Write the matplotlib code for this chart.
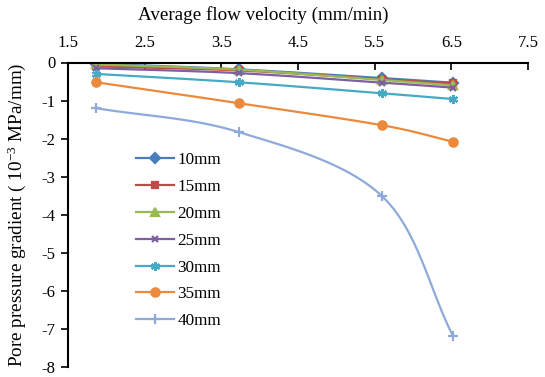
import numpy as np
import matplotlib.pyplot as plt

plt.rcParams["font.family"] = ["Liberation Serif", "DejaVu Serif"]
plt.rcParams["mathtext.fontset"] = "custom"
plt.rcParams["mathtext.rm"] = "Liberation Serif"
plt.rcParams["axes.unicode_minus"] = False
plt.rcParams["font.size"] = 12

velocity = [1.87, 3.73, 5.6, 6.52]
labels = ['10mm', '15mm', '20mm', '25mm', '30mm', '35mm', '40mm']
g10 = [-0.03, -0.18, -0.41, -0.53]
g15 = [-0.10, -0.21, -0.44, -0.55]
g20 = [-0.05, -0.19, -0.46, -0.60]
g25 = [-0.15, -0.28, -0.53, -0.66]
g30 = [-0.30, -0.52, -0.81, -0.96]
g35 = [-0.52, -1.07, -1.65, -2.08]
g40 = [-1.20, -1.83, -3.52, -7.18]
series = [g10, g15, g20, g25, g30, g35, g40]

colors = ['#4A7EBB', '#BE4B48', '#98B954', '#7D60A0', '#46AAC5', '#EB8A3C', '#8FAADA']
markers = ['D', 's', '^', 'x', (6, 2, 0), 'o', '+']
msizes = [5, 5, 6, 5, 6.5, 6, 7]


def smooth(x, y, n=40):
    # Catmull-Rom style smoothing, similar to Excel's smoothed line
    x = np.asarray(x, float)
    y = np.asarray(y, float)
    px = np.concatenate([[2 * x[0] - x[1]], x, [2 * x[-1] - x[-2]]])
    py = np.concatenate([[2 * y[0] - y[1]], y, [2 * y[-1] - y[-2]]])
    xs, ys = [], []
    t = np.linspace(0, 1, n)
    for i in range(1, len(px) - 2):
        p0, p1, p2, p3 = px[i - 1], px[i], px[i + 1], px[i + 2]
        q0, q1, q2, q3 = py[i - 1], py[i], py[i + 1], py[i + 2]
        c1x, c1y = p1 + (p2 - p0) / 6, q1 + (q2 - q0) / 6
        c2x, c2y = p2 - (p3 - p1) / 6, q2 - (q3 - q1) / 6
        bx = (1 - t) ** 3 * p1 + 3 * (1 - t) ** 2 * t * c1x + 3 * (1 - t) * t ** 2 * c2x + t ** 3 * p2
        by = (1 - t) ** 3 * q1 + 3 * (1 - t) ** 2 * t * c1y + 3 * (1 - t) * t ** 2 * c2y + t ** 3 * q2
        xs.extend(bx)
        ys.extend(by)
    return xs, ys


fig = plt.figure(figsize=(5.45, 3.77), dpi=100)
ax = fig.add_axes([68 / 545, 1 - 367 / 377, 460 / 545, 304.5 / 377])

for vals, lab, c, m, ms in zip(series, labels, colors, markers, msizes):
    sx, sy = smooth(velocity, vals)
    ax.plot(sx, sy, color=c, lw=1.6)
    ax.plot(velocity, vals, linestyle='none', marker=m, color=c, ms=ms, mew=1.6)
    ax.plot([], [], color=c, lw=1.6, marker=m, ms=ms, mew=1.6, label=lab)

ax.set_xlim(1.5, 7.5)
ax.set_ylim(-8, 0)
ax.set_xticks(np.arange(1.5, 7.6, 1.0))
ax.set_yticks(np.arange(-8, 0.1, 1))
ax.xaxis.tick_top()
ax.xaxis.set_label_position('top')
ax.tick_params(axis='x', direction='in', length=5, width=1.2, pad=8, labelsize=12)
ax.tick_params(axis='y', direction='out', length=5, width=1.2, pad=4, labelsize=12)
ax.set_xlabel('Average flow velocity (mm/min)', fontsize=13.7)
ax.xaxis.set_label_coords(0.425, 1.14)
ax.set_ylabel(r'Pore pressure gradient ( $\mathregular{10^{-3}}$ MPa/mm)', fontsize=13.8)
ax.yaxis.set_label_coords(-0.088, 0.5)

ax.spines['right'].set_visible(False)
ax.spines['bottom'].set_visible(False)
ax.spines['top'].set_linewidth(1.5)
ax.spines['left'].set_linewidth(1.5)

ax.legend(loc='upper left', bbox_to_anchor=(0.115, 0.755), frameon=False,
          fontsize=12.3, handlelength=2.2, labelspacing=0.63, handletextpad=0.2)

plt.savefig('out.png', dpi=100)
